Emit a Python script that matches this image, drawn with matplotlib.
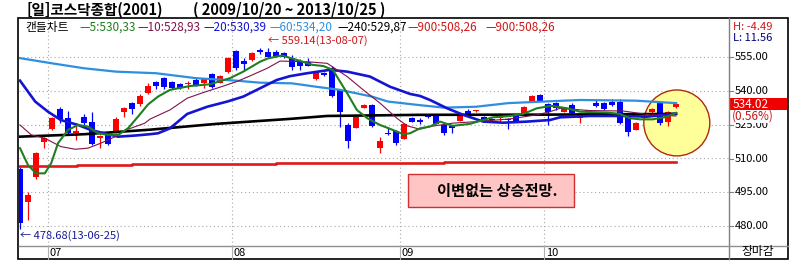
import numpy as np
import matplotlib
matplotlib.use("Agg")
import matplotlib.pyplot as plt
from matplotlib.patches import Rectangle, Ellipse

plt.rcParams['font.family'] = ['Noto Sans CJK KR', 'DejaVu Sans']

# daily candles, 2013-06-25 .. 2013-10-25 (day index 0..82)
opens = [505.3, 490.7, 501.8, 517.4, 523.1, 532.0, 528.0, 521.2, 528.4, 526.2,
         519.3, 520.4, 521.8, 530.7, 534.7, 534.2, 539.1, 544.0, 545.6, 543.9,
         543.1, 543.0, 544.9, 543.4, 547.7, 543.7, 548.6, 557.8, 553.5, 553.8,
         558.4, 557.2, 557.5, 557.0, 554.5, 553.5, 553.1, 545.2, 548.0, 550.1,
         540.5, 524.9, 523.7, 532.6, 533.8, 514.8, 521.2, 522.2, 518.7, 528.2,
         527.1, 528.9, 528.9, 524.9, 524.5, 526.8, 531.3, 531.0, 528.6, 527.6,
         528.2, 527.3, 528.9, 529.8, 535.7, 538.1, 534.1, 534.8, 530.8, 533.8,
         527.9, 531.0, 534.8, 534.8, 535.3, 535.3, 528.9, 522.7, 527.9, 530.6,
         534.6, 526.4, 532.8]
highs = [506.0, 495.1, 513.0, 519.5, 528.5, 533.1, 531.3, 525.8, 529.8, 530.8,
         520.6, 521.3, 528.5, 533.0, 535.3, 538.5, 543.4, 544.5, 546.0, 544.3,
         543.5, 544.5, 546.0, 545.5, 548.0, 547.0, 555.0, 558.1, 554.5, 557.2,
         558.9, 559.14, 558.2, 557.3, 556.0, 554.0, 554.5, 549.0, 548.5, 551.0,
         541.0, 525.7, 529.5, 534.2, 534.2, 519.7, 524.0, 522.5, 525.8, 528.5,
         527.8, 529.5, 529.2, 525.2, 525.0, 529.2, 531.8, 531.6, 529.0, 528.0,
         530.0, 527.8, 529.2, 533.5, 538.0, 538.5, 534.5, 535.0, 533.0, 534.8,
         529.8, 531.6, 535.8, 535.2, 536.3, 536.3, 529.2, 526.0, 529.2, 532.3,
         535.0, 531.2, 535.3]
lows = [478.68, 482.6, 501.0, 514.8, 522.5, 525.9, 521.0, 518.2, 524.9, 515.8,
        514.6, 515.8, 521.5, 528.6, 529.8, 533.5, 538.5, 541.0, 540.8, 541.0,
        541.0, 541.0, 542.0, 541.5, 541.5, 543.5, 548.0, 549.5, 549.4, 553.5,
        556.5, 555.0, 555.0, 554.5, 549.5, 549.4, 551.0, 545.0, 546.5, 537.5,
        524.2, 514.8, 523.5, 532.3, 524.0, 512.3, 520.5, 516.0, 518.5, 526.0,
        525.5, 528.0, 525.2, 520.5, 521.5, 526.5, 528.5, 530.5, 526.0, 527.0,
        526.0, 523.0, 526.5, 529.5, 535.5, 535.5, 524.9, 531.5, 530.5, 529.5,
        525.7, 530.5, 533.0, 531.5, 533.5, 525.5, 520.0, 522.5, 527.5, 530.3,
        525.0, 524.5, 532.3]
closes = [481.4, 493.8, 512.5, 519.1, 528.0, 527.6, 521.4, 522.0, 525.8, 516.4,
          519.8, 516.4, 527.6, 532.5, 532.0, 537.8, 542.2, 542.2, 541.9, 541.5,
          541.5, 543.5, 542.7, 545.2, 541.9, 546.7, 554.5, 550.1, 552.0, 557.0,
          557.3, 555.3, 555.6, 555.1, 550.8, 551.3, 551.3, 548.6, 547.2, 537.9,
          530.8, 517.9, 528.6, 533.8, 524.5, 517.9, 520.8, 517.0, 525.4, 526.4,
          526.4, 528.6, 525.4, 521.5, 523.4, 528.9, 529.8, 531.3, 526.4, 527.2,
          528.5, 526.9, 526.8, 533.0, 537.8, 535.7, 530.8, 532.3, 532.3, 530.1,
          529.4, 531.3, 533.4, 531.9, 533.8, 525.9, 521.9, 525.7, 528.9, 532.0,
          525.7, 530.8, 534.02]

# moving averages (day index, value)
ma5_x = [0, 1, 2, 3.1, 3.9, 4.75, 6, 7.25, 8.5, 9.75, 11, 12.25, 13.5, 14.75, 16, 17.25,
         18.75, 21.25, 23.75, 26.25, 27.9, 30, 31, 32.75, 34.6, 36.6, 37.9, 39.1, 40.9,
         42.1, 43.4, 45, 46.6, 47.9, 48.75, 50, 51.25, 52.5, 54.1, 56.25, 59.1, 61.25,
         62.9, 64.6, 66.4, 68.4, 70, 73.4, 75, 76.25, 77.5, 79.1, 80.9, 82]
ma5_v = [514.6, 507.1, 503.4, 503.4, 507.9, 516.8, 522.7, 524.9, 524.2, 521.2, 520.5, 520.5,
         523.4, 528.6, 534.0, 537.5, 540.5, 542.2, 543.0, 545.7, 548.6, 553.0, 554.5, 555.8,
         553.8, 551.6, 551.1, 549.4, 539.0, 531.6, 527.9, 524.9, 522.7, 520.8, 521.2, 523.4,
         524.2, 526.4, 524.5, 525.4, 528.3, 528.9, 529.8, 532.3, 533.4, 532.3, 530.8, 530.4,
         529.8, 527.9, 527.4, 527.4, 528.6, 530.3]
ma10_x = [0, 1.4, 3.1, 5.1, 6.9, 8.5, 10.1, 11.9, 13.5, 15.6, 16.25, 18.75, 20.9, 22.9, 25,
          27.1, 28.75, 30.9, 32.5, 35.9, 38.4, 40.9, 42.9, 45, 47.1, 48.4, 50, 51.25, 54.1,
          57.1, 61.25, 64.6, 66.25, 67.5, 71.25, 75.4, 78.75, 82]
ma10_v = [524.9, 520.5, 519.0, 515.3, 514.1, 514.6, 516.8, 519.7, 523.0, 525.7, 527.5, 531.6,
          536.8, 539.3, 541.7, 544.2, 546.7, 550.1, 553.3, 553.0, 552.3, 546.4, 540.5, 534.6,
          527.9, 524.5, 523.0, 524.2, 525.7, 526.4, 527.6, 529.4, 530.8, 532.3, 531.3, 531.1,
          529.4, 528.9]
ma20_x = [0, 1.9, 3.5, 5.1, 7.25, 8.9, 11, 12.25, 14.4, 16.25, 17.25, 18.75, 20.9, 23.4,
          25.9, 27.9, 30, 32.1, 33.75, 35.9, 38.75, 40.9, 43.75, 46.25, 48.75, 50, 51.25,
          53.4, 55.4, 57.9, 60.4, 63.4, 66.25, 67.5, 71.25, 75.4, 78.4, 82]
ma20_v = [544.6, 535.3, 530.8, 527.1, 524.9, 522.6, 520.8, 519.7, 520.2, 520.8, 521.2, 523.4,
          529.8, 533.0, 535.3, 537.5, 541.2, 544.9, 546.6, 547.9, 549.4, 548.6, 546.4, 541.9,
          538.7, 537.8, 536.0, 532.3, 529.4, 526.4, 525.9, 526.4, 527.1, 528.3, 528.9, 528.9,
          528.6, 530.0]
ma60_x = [0, 4, 8, 12, 17, 22, 27, 30, 34, 37, 40, 44, 46, 50, 53, 57, 61, 66, 70, 77, 82]
ma60_v = [554.6, 552.3, 550.1, 548.6, 547.9, 545.7, 544.6, 543.7, 543.4, 541.9, 540.5, 537.5,
          535.3, 533.7, 532.6, 533.0, 534.6, 535.4, 536.0, 535.7, 534.6]
ma240_x = [0, 8.1, 16.25, 24.6, 33.75, 38.4, 50, 66.25, 82]
ma240_v = [519.7, 520.8, 522.8, 525.4, 527.6, 528.9, 529.4, 529.5, 529.8]
ma900_x = [-0.125, 7.1, 14, 22, 32, 46, 53, 69, 82]
ma900_v = [506.7, 507.0, 507.4, 507.7, 508.2, 507.9, 508.3, 508.6, 508.6]

months = ['07', '08', '09', '10']
month_start = [4, 27, 48, 66]
yticks = [555, 540, 525, 510, 495, 480]

fig = plt.figure(figsize=(8.09, 2.80), dpi=100)
fig.patch.set_facecolor('white')

ax = fig.add_axes([19/809, (280-246)/280, 710/809, 227/280])
ax.set_xlim(-0.125, 88.625)
ax.set_ylim(471.1, 572.0)
ax.set_facecolor('none')
ax.axis('off')

dot = (0, (1, 2.5))
for t in yticks:
    ax.axhline(t, color='#a8a8a8', lw=0.8, ls=dot, zorder=0)
for m in month_start:
    ax.axvline(m - 0.5, color='#a8a8a8', lw=0.8, ls=dot, zorder=0)

# yellow highlight circle
ax.add_patch(Ellipse((82.1, 525.8), 8.25, 29.3, facecolor='#ffff99',
                     edgecolor='#b02a10', lw=1.0, zorder=1))

idx = np.arange(len(opens))
o = np.array(opens); c = np.array(closes)
up = c >= o
cols = np.where(up, '#ff0000', '#0000ff')
ax.vlines(idx, lows, highs, colors=cols, lw=0.9, zorder=2)
bottom = np.minimum(o, c)
height = np.maximum(np.abs(c - o), 0.45)
ax.bar(idx, height, bottom=bottom, width=0.75, color=cols, lw=0, zorder=3)

ax.plot(ma900_x, ma900_v, color='#e01818', lw=1.9, drawstyle='steps-post', zorder=4)
ax.plot(ma240_x, ma240_v, color='black', lw=1.9, zorder=4)
ax.plot(ma60_x, ma60_v, color='#2e8fe0', lw=1.6, zorder=4)
ax.plot(ma20_x, ma20_v, color='#1414d2', lw=1.9, zorder=5)
ax.plot(ma10_x, ma10_v, color='#80124a', lw=0.8, zorder=5)
ax.plot(ma5_x, ma5_v, color='#1f7f1f', lw=1.5, zorder=6)

# overlay in pixel coordinates for frame and texts
ov = fig.add_axes([0, 0, 1, 1], zorder=3)
ov.set_xlim(0, 809)
ov.set_ylim(280, 0)
ov.axis('off')
ov.set_facecolor('none')

ov.add_patch(Rectangle((18, 18), 770, 241, fill=False, ec='black', lw=1.2))
ov.plot([729, 729], [18, 259], color='#808080', lw=1.0)
ov.plot([19, 788], [246, 246], color='#909090', lw=1.0)
for lab, m in zip(months, month_start):
    px = 20 + 8 * (m - 0.5)
    ov.plot([px, px], [246, 259], color='#b0b0b0', lw=0.8)
    ov.text(px + 2, 252.5, lab, fontsize=8, va='center', ha='left', color='black')
ov.text(758, 251, '장마감', fontsize=8.5, va='center', ha='center', color='black')

ov.text(27, 10, '[일]코스닥종합(2001)', fontsize=10.5, va='center', ha='left',
        fontweight='bold', color='black')
ov.text(193, 10, '( 2009/10/20 ~ 2013/10/25 )', fontsize=10.5, va='center', ha='left',
        fontweight='bold', color='black')

legend = [(25, '캔들차트', 'black'), (79, '—5:530,33', '#1f7f1f'),
          (137, '—10:528,93', '#80124a'), (203, '—20:530,39', '#1414d2'),
          (269, '—60:534,20', '#2e8fe0'), (337, '—240:529,87', 'black'),
          (407, '—900:508,26', '#d01818'), (485, '—900:508,26', '#d01818')]
for lx, s, col in legend:
    ov.text(lx, 27, s, fontsize=8.5, va='center', ha='left', color=col)

ov.text(733, 27, 'H: -4.49', fontsize=8, va='center', ha='left', color='#d01818')
ov.text(733, 38, 'L: 11.56', fontsize=8, va='center', ha='left', color='#000080')

for t in yticks:
    py = 57.3 + (555 - t) * 2.25
    ov.plot([729, 733], [py, py], color='#808080', lw=0.8)
    tx = ov.text(735, py, '%.2f' % t, fontsize=8, va='center', ha='left', color='black')
    if t == 525:
        # lower half only, the change label covers the rest
        clip = Rectangle((730, 122.5), 58, 12, transform=ov.transData, fill=False, lw=0)
        ov.add_patch(clip)
        tx.set_clip_path(clip)
        tx.set_clip_on(True)

ov.add_patch(Rectangle((729.5, 97.5), 58, 12.5, fc='#f00000', ec='none'))
ov.text(733, 104, '534.02', fontsize=8.5, va='center', ha='left', color='white')
ov.text(732, 116.5, '(0.56%)', fontsize=8.5, va='center', ha='left', color='#c01818')

ov.text(268, 41, '← 559.14(13-08-07)', fontsize=8, va='center', ha='left', color='#d01818')
ov.text(20, 236, '← 478.68(13-06-25)', fontsize=8, va='center', ha='left', color='#1a1a99')

ov.add_patch(Rectangle((408, 174), 166, 33, fc='#ffc4c4', ec='#d03030', lw=1.0))
ov.text(497, 190.5, '이변없는 상승전망.', fontsize=11, va='center', ha='center',
        fontweight='bold', color='black')

fig.savefig('out.png', dpi=100)
